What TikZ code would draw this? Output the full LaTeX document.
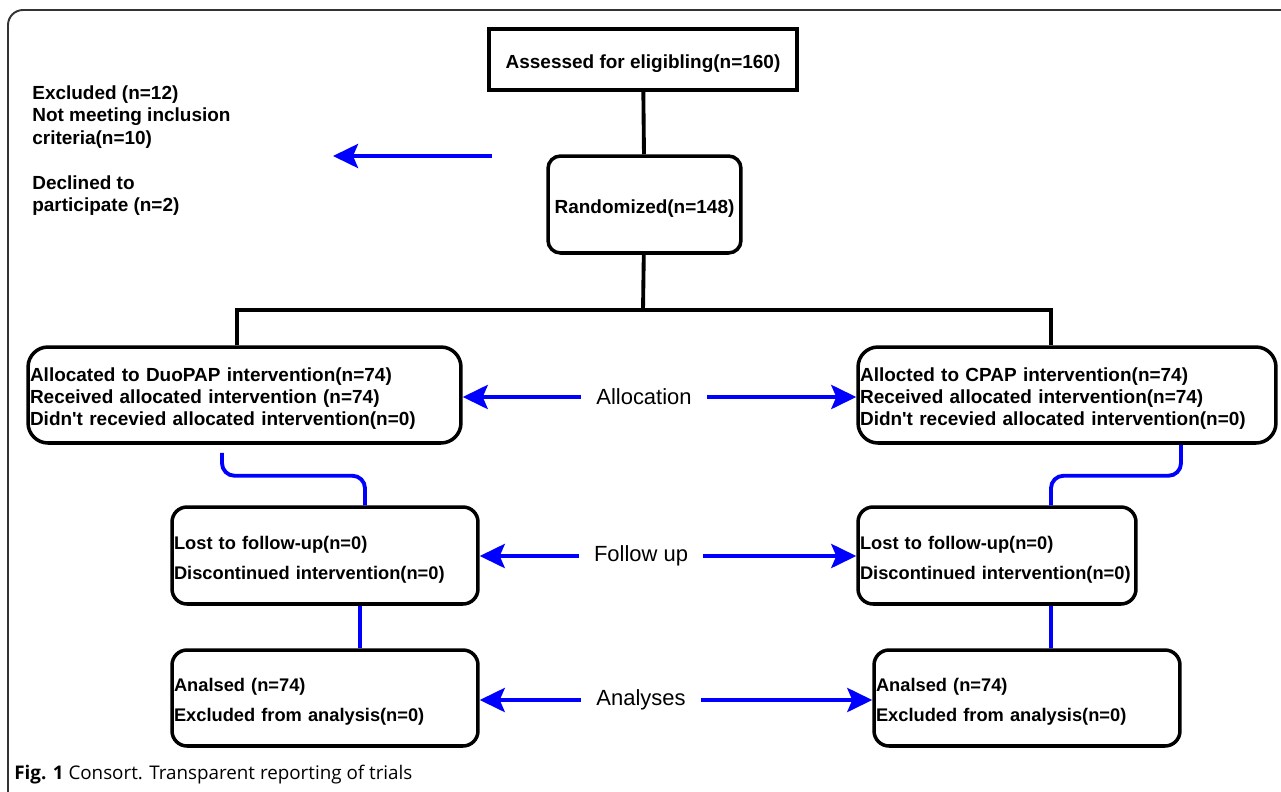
\documentclass[tikz,border=0pt]{standalone}
\usepackage{fontspec}
\setmainfont{Liberation Sans}[Ligatures=TeXOff]
\newfontfamily\capfont{Open Sans}
\usepackage{tikz}
\usetikzlibrary{arrows.meta, positioning}
\tikzset{>=stealth}
\usepackage{xcolor}
\definecolor{flowblue}{HTML}{0000FF}
\definecolor{framegray}{HTML}{333333}

\begin{document}
\begin{tikzpicture}[x=0.02cm, y=-0.02cm,
		box/.style={draw, line width=2pt, rounded corners=0.3cm, align=left, inner xsep=0.04cm, inner ysep=0pt, text height=12pt, font=\fontsize{10.8}{12.5}\selectfont\bfseries},
		roomy/.style={font=\fontsize{10.4}{17}\selectfont\bfseries},
		stage/.style={font=\fontsize{12.5}{15}\selectfont, inner xsep=0.3cm},
		tree/.style={line width=2.2pt},
		flow/.style={flowblue, line width=2.2pt, rounded corners=0.25cm},
		pointer/.style={flowblue, line width=2.4pt, -{Stealth[length=0.5cm, width=0.48cm, inset=0.1cm]}}]
			\useasboundingbox (0,0) rectangle (1281,791);
			\draw [framegray, line width=1.1pt, rounded corners=0.3cm] (8,800) -- (8,10) -- (1295,10);
			\node[box, rounded corners=0pt, line width=2.2pt, minimum width=6.16cm, minimum height=1.22cm, align=center] (assess) at (643,59.5) {Assessed for eligibling(n=160)};
			\node[box, rounded corners=0.25cm, minimum width=3.86cm, minimum height=1.94cm, align=center] (random) at (644.5,204.5) {Randomized(n=148)};
			\node[box, rounded corners=0.4cm, text width=8.58cm, minimum height=1.92cm] (allocL) at (244.5,395) {Allocated to DuoPAP intervention(n=74)\\Received allocated intervention (n=74)\\Didn't recevied allocated intervention(n=0)};
			\node[box, rounded corners=0.4cm, text width=8.28cm, minimum height=1.92cm] (allocR) at (1067,395) {Allocted to CPAP intervention(n=74)\\Received allocated intervention(n=74)\\Didn't recevied allocated intervention(n=0)};
			\node[box, roomy, text width=6.04cm, minimum height=1.94cm] (followL) at (325,555.5) {Lost to follow-up(n=0)\\Discontinued intervention(n=0)};
			\node[box, roomy, text width=5.48cm, minimum height=1.94cm] (followR) at (997,555.5) {Lost to follow-up(n=0)\\Discontinued intervention(n=0)};
			\node[box, roomy, text width=6.04cm, minimum height=1.92cm] (analL) at (325,698) {Analsed (n=74)\\Excluded from analysis(n=0)};
			\node[box, roomy, text width=6.04cm, minimum height=1.92cm] (analR) at (1027,698) {Analsed (n=74)\\Excluded from analysis(n=0)};
			\node[anchor=west, inner sep=0pt, align=left, font=\fontsize{10.8}{12.75}\selectfont\bfseries] (excluded) at (32,150.5) {Excluded (n=12)\\Not meeting inclusion\\criteria(n=10)\\[12.75pt]Declined to\\participate (n=2)};
			\node[stage] (lblAlloc) at (644,397) {Allocation};
			\node[stage] (lblFollow) at (641,556) {Follow up};
			\node[stage] (lblAnal) at (641,700) {Analyses};
			\coordinate (split) at (643,310);
			\coordinate (exTail) at (492,156);
			\coordinate (exHead) at (333,156);
			\draw [tree] (assess) -- (random);
			\draw [tree] (random) -- (split);
			\draw [tree] ([xshift=-0.15cm]allocL.north) |- (split) -| ([xshift=-0.32cm]allocR.north);
			\draw [flow, shorten <=0.16cm] ([xshift=-0.45cm]allocL.south) -- ++(0,31) -| ([xshift=0.8cm]followL.north);
			\draw [flow] ([xshift=2.28cm]allocR.south) -- ++(0,31) -| ([xshift=1.08cm]followR.north);
			\draw [flow] ([xshift=0.7cm]followL.south) -- ([xshift=0.7cm]analL.north);
			\draw [flow] ([xshift=1.08cm]followR.south) -- ([xshift=0.48cm]analR.north);
			\draw [pointer] (exTail) -- (exHead);
			\draw [pointer] (lblAlloc.west) -- (lblAlloc.west -| allocL.east);
			\draw [pointer] (lblAlloc.east) -- (lblAlloc.east -| allocR.west);
			\draw [pointer] (lblFollow.west) -- (lblFollow.west -| followL.east);
			\draw [pointer] (lblFollow.east) -- (lblFollow.east -| followR.west);
			\draw [pointer] (lblAnal.west) -- (lblAnal.west -| analL.east);
			\draw [pointer] (lblAnal.east) -- (lblAnal.east -| analR.west);
			\node[anchor=west, inner sep=0pt, font=\capfont\fontsize{10.7}{12.5}\selectfont] (caption) at (14,775) {\textbf{Fig. 1} Consort. Transparent reporting of trials};
		\end{tikzpicture}
\end{document}
